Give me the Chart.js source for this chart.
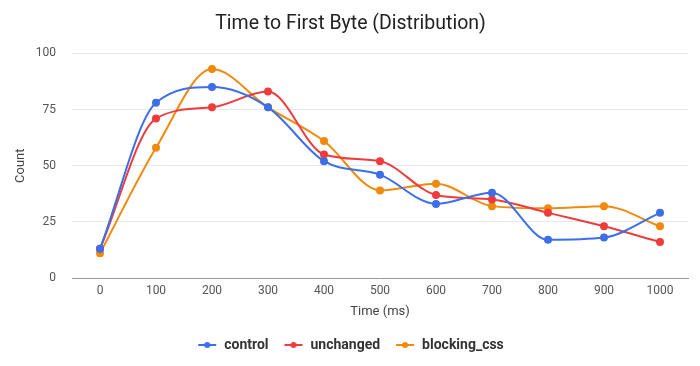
<!DOCTYPE html>
<html>
<head>
<meta charset="utf-8">
<script src="https://cdn.jsdelivr.net/npm/chart.js@4"></script>
<style>
html,body{margin:0;padding:0;background:#fff;}
#wrap{width:700px;height:366px;}
</style>
</head>
<body>
<div id="wrap"><canvas id="c" width="700" height="366"></canvas></div>
<script>
const categories = ['0','100','200','300','400','500','600','700','800','900','1000'];
const control = [13,78,85,76,52,46,33,38,17,18,29];
const unchanged = [13,71,76,83,55,52,37,35,29,23,16];
const blockingCss = [11,58,93,76,61,39,42,32,31,32,23];
const yTicks = [0,25,50,75,100];

const FONT = 'Roboto, "Helvetica Neue", Arial, sans-serif';
const colors = ['#3c6fe8','#ee3c3c','#f08a0c'];

function legendIcon(color){
  const c = document.createElement('canvas');
  c.width = 20; c.height = 10;
  const g = c.getContext('2d');
  g.strokeStyle = color; g.lineWidth = 2;
  g.beginPath(); g.moveTo(1,5); g.lineTo(19,5); g.stroke();
  g.fillStyle = color;
  g.beginPath(); g.arc(10,5,3,0,Math.PI*2); g.fill();
  return c;
}

function ds(label, data, color){
  return {label, data, borderColor: color, backgroundColor: color,
    pointBackgroundColor: color, pointBorderColor: color,
    borderWidth: 2, pointRadius: 3, pointHoverRadius: 3,
    cubicInterpolationMode: 'monotone', fill: false};
}

new Chart(document.getElementById('c'), {
  type: 'line',
  data: {
    labels: categories,
    datasets: [
      ds('control', control, colors[0]),
      ds('unchanged', unchanged, colors[1]),
      ds('blocking_css', blockingCss, colors[2])
    ]
  },
  options: {
    responsive: false,
    animation: false,
    layout: {padding: {left: 13, right: 12, top: 0, bottom: 4}},
    plugins: {
      title: {display: true, text: 'Time to First Byte (Distribution)',
        color: '#222', font: {family: FONT, size: 19.5, weight: 'normal'},
        padding: {top: 12, bottom: 18}},
      legend: {position: 'bottom',
        labels: {color: '#333', font: {family: FONT, size: 14, weight: 'bold'},
          usePointStyle: true, pointStyleWidth: 20, padding: 15,
          generateLabels(chart){
            return chart.data.datasets.map((d,i)=>({
              text: d.label, fillStyle: d.borderColor, strokeStyle: d.borderColor,
              lineWidth: 0, pointStyle: legendIcon(d.borderColor),
              datasetIndex: i, hidden: false, fontColor: '#333'
            }));
          }}},
      tooltip: {enabled: false}
    },
    scales: {
      x: {
        offset: true,
        grid: {display: false, drawTicks: false},
        border: {color: '#999', width: 1},
        ticks: {color: '#555', font: {family: FONT, size: 12}, padding: 6},
        title: {display: true, text: 'Time (ms)', color: '#444',
          font: {family: FONT, size: 13}, padding: {top: 4, bottom: 3}},
        afterFit(s){ s.height = 45; }
      },
      y: {
        min: 0, max: 100,
        afterBuildTicks(s){ s.ticks = yTicks.map(v=>({value:v})); },
        grid: {color: '#e8e8e8', drawTicks: false},
        border: {display: false},
        ticks: {color: '#555', font: {family: FONT, size: 12}, padding: 16},
        title: {display: true, text: 'Count', color: '#444',
          font: {family: FONT, size: 13}, padding: {top: 0, bottom: 0}},
        afterFit(s){ s.width = 59; }
      }
    }
  }
});
</script>
</body>
</html>
